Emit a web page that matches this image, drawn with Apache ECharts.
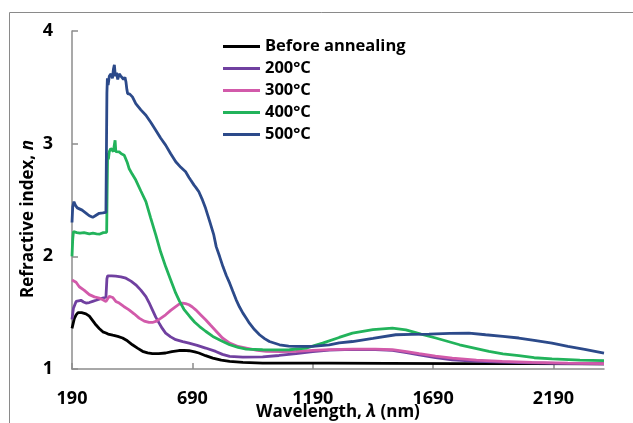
<!DOCTYPE html>
<html>
<head>
<meta charset="utf-8">
<script src="https://cdn.jsdelivr.net/npm/echarts@6/dist/echarts.min.js"></script>
<style>
  html, body { margin: 0; padding: 0; background: #fff; }
  #chart { width: 633px; height: 423px; }
</style>
</head>
<body>
<div id="chart"></div>
<script>
// Refractive index spectra of films, as deposited and after annealing.
const seriesNames = ['Before annealing', '200°C', '300°C', '400°C', '500°C'];
const seriesColors = ['#000000', '#7040A0', '#D25AAA', '#22B35B', '#2C4A8A'];

const xTicks = [190, 690, 1190, 1690, 2190];
const yTicks = [1, 2, 3, 4];

// [wavelength nm, n]
const beforeAnnealing = [
  [190, 1.36], [200, 1.45], [207, 1.48], [215, 1.50], [230, 1.50], [248, 1.49],
  [262, 1.47], [276, 1.43], [290, 1.39], [303, 1.36], [318, 1.33], [331, 1.32],
  [340, 1.31], [359, 1.30], [380, 1.29], [400, 1.275], [420, 1.25], [441, 1.215],
  [462, 1.185], [483, 1.157], [504, 1.143], [524, 1.136], [550, 1.137], [579, 1.142],
  [605, 1.155], [634, 1.164], [655, 1.166], [676, 1.162], [700, 1.152], [717, 1.142],
  [745, 1.118], [775, 1.097], [810, 1.078], [845, 1.067], [900, 1.058], [982, 1.053],
  [1100, 1.052], [1259, 1.052], [1500, 1.05], [1800, 1.048], [2100, 1.047], [2400, 1.046]
];

const t200 = [
  [190, 1.44], [196, 1.54], [207, 1.60], [215, 1.61], [227, 1.61], [238, 1.595],
  [248, 1.585], [262, 1.59], [276, 1.60], [290, 1.61], [303, 1.62], [318, 1.63],
  [331, 1.638], [333, 1.64], [335, 1.80], [338, 1.826], [355, 1.826], [372, 1.824],
  [393, 1.818], [414, 1.806], [435, 1.78], [455, 1.747], [476, 1.70], [497, 1.643],
  [510, 1.59], [524, 1.525], [538, 1.46], [552, 1.407], [565, 1.36], [579, 1.319],
  [600, 1.285], [621, 1.26], [650, 1.243], [676, 1.23], [710, 1.21], [745, 1.186],
  [787, 1.156], [815, 1.13], [845, 1.112], [900, 1.106], [982, 1.108], [1050, 1.12],
  [1121, 1.136], [1190, 1.155], [1259, 1.168], [1355, 1.175], [1450, 1.172], [1521, 1.165],
  [1580, 1.145], [1632, 1.125], [1700, 1.10], [1770, 1.082], [1840, 1.072], [1908, 1.066],
  [2050, 1.056], [2200, 1.05], [2400, 1.045]
];

const t300 = [
  [190, 1.79], [195, 1.80], [207, 1.77], [220, 1.73], [240, 1.70], [262, 1.66],
  [283, 1.64], [303, 1.63], [318, 1.615], [331, 1.60], [337, 1.62], [345, 1.645],
  [359, 1.635], [372, 1.60], [386, 1.585], [405, 1.555], [427, 1.525], [448, 1.49],
  [469, 1.452], [490, 1.425], [510, 1.413], [524, 1.413], [538, 1.422], [558, 1.45],
  [579, 1.481], [600, 1.52], [621, 1.554], [635, 1.575], [649, 1.585], [662, 1.58],
  [676, 1.57], [690, 1.55], [704, 1.525], [725, 1.48], [745, 1.437], [765, 1.39],
  [787, 1.34], [815, 1.275], [845, 1.23], [880, 1.20], [914, 1.186], [960, 1.165],
  [997, 1.156], [1060, 1.155], [1121, 1.156], [1190, 1.165], [1259, 1.172], [1355, 1.177],
  [1450, 1.176], [1521, 1.171], [1580, 1.155], [1632, 1.136], [1700, 1.115], [1770, 1.097],
  [1870, 1.078], [1977, 1.067], [2100, 1.058], [2250, 1.052], [2400, 1.047]
];

const t400 = [
  [190, 2.00], [193, 2.15], [196, 2.22], [210, 2.21], [223, 2.205], [240, 2.21],
  [262, 2.20], [277, 2.205], [292, 2.20], [306, 2.198], [320, 2.21], [334, 2.213],
  [336, 2.60], [338, 2.92], [341, 2.86], [345, 2.93], [351, 2.957], [356, 2.95],
  [362, 2.93], [366, 2.99], [369, 3.03], [372, 2.93], [379, 2.94], [386, 2.927],
  [395, 2.91], [400, 2.90], [407, 2.898], [414, 2.883], [420, 2.83], [427, 2.78],
  [440, 2.73], [455, 2.677], [476, 2.58], [497, 2.485], [517, 2.34], [538, 2.19],
  [558, 2.04], [579, 1.909], [600, 1.79], [621, 1.673], [637, 1.60], [655, 1.53],
  [679, 1.466], [700, 1.415], [720, 1.377], [745, 1.335], [775, 1.289], [810, 1.25],
  [845, 1.215], [880, 1.192], [914, 1.177], [982, 1.171], [1040, 1.170], [1093, 1.171],
  [1162, 1.186], [1231, 1.23], [1300, 1.28], [1355, 1.319], [1440, 1.35], [1521, 1.363],
  [1577, 1.348], [1640, 1.31], [1701, 1.275], [1800, 1.215], [1922, 1.156], [1980, 1.135],
  [2046, 1.118], [2110, 1.10], [2184, 1.089], [2300, 1.079], [2400, 1.074]
];

const t500 = [
  [190, 2.30], [193, 2.44], [198, 2.485], [205, 2.45], [212, 2.43], [220, 2.414],
  [232, 2.41], [248, 2.384], [262, 2.36], [276, 2.346], [290, 2.365], [303, 2.382],
  [318, 2.385], [331, 2.39], [334, 2.39], [335, 3.45], [337, 3.58], [340, 3.52],
  [345, 3.60], [352, 3.62], [358, 3.58], [362, 3.66], [366, 3.70], [370, 3.60],
  [375, 3.63], [380, 3.57], [386, 3.62], [393, 3.60], [399, 3.61], [404, 3.57],
  [410, 3.59], [414, 3.55], [418, 3.48], [421, 3.445], [430, 3.44], [441, 3.415],
  [455, 3.356], [476, 3.30], [497, 3.252], [517, 3.19], [538, 3.12], [558, 3.05],
  [579, 2.987], [600, 2.91], [621, 2.839], [642, 2.79], [662, 2.75], [676, 2.70],
  [683, 2.677], [690, 2.67], [697, 2.632], [705, 2.61], [717, 2.573], [730, 2.51],
  [745, 2.426], [762, 2.31], [779, 2.19], [789, 2.086], [803, 2.00], [817, 1.909],
  [831, 1.83], [845, 1.762], [858, 1.69], [872, 1.614], [886, 1.55], [900, 1.496],
  [914, 1.45], [927, 1.407], [948, 1.35], [969, 1.304], [990, 1.27], [1010, 1.244],
  [1052, 1.215], [1090, 1.203], [1121, 1.20], [1190, 1.20], [1259, 1.215], [1300, 1.232],
  [1355, 1.244], [1440, 1.272], [1535, 1.304], [1600, 1.308], [1673, 1.31], [1760, 1.317],
  [1839, 1.319], [1908, 1.304], [1980, 1.29], [2046, 1.275], [2110, 1.255], [2184, 1.23],
  [2250, 1.20], [2320, 1.175], [2400, 1.142]
];

const seriesData = [beforeAnnealing, t200, t300, t400, t500];

const FONT = '"Open Sans"';
const chart = echarts.init(document.getElementById('chart'), null, { renderer: 'canvas' });

const axisGrey = '#8C8C8C';
const titleRich = {
  b: { fontFamily: FONT, fontWeight: 'bold', fontSize: 17, color: '#000' },
  i: { fontFamily: FONT, fontWeight: 'bold', fontStyle: 'italic', fontSize: 17, color: '#000' }
};

chart.setOption({
  backgroundColor: '#ffffff',
  animation: false,
  grid: { left: 72, top: 31, right: 29, bottom: 54, containLabel: false, outerBoundsMode: 'none' },
  graphic: [{
    type: 'rect',
    shape: { x: 9.5, y: 12.5, width: 700, height: 500 },
    style: { fill: 'none', stroke: '#8A8A8A', lineWidth: 1 },
    silent: true
  }],
  legend: {
    orient: 'vertical',
    left: 218,
    top: 33,
    itemWidth: 37,
    itemHeight: 3,
    itemGap: 5,
    icon: 'rect',
    data: seriesNames,
    textStyle: { fontFamily: FONT, fontWeight: 'bold', fontSize: 16.5, lineHeight: 16, color: '#000' }
  },
  xAxis: {
    type: 'value',
    min: xTicks[0],
    max: 2400,
    interval: xTicks[1] - xTicks[0],
    name: '{b|Wavelength, }{i|λ}{b| (nm)}',
    nameLocation: 'middle',
    nameGap: 35,
    nameMoveOverlap: false,
    nameTextStyle: { rich: titleRich },
    axisLine: { show: true, lineStyle: { color: axisGrey, width: 1.5 } },
    axisTick: { show: true, inside: true, length: 6, lineStyle: { color: axisGrey, width: 1.5 } },
    splitLine: { show: false },
    axisLabel: {
      showMaxLabel: false,
      margin: 21,
      fontFamily: FONT, fontWeight: 'bold', fontSize: 18, color: '#000',
      formatter: v => (xTicks.indexOf(v) >= 0 ? String(v) : '')
    }
  },
  yAxis: {
    type: 'value',
    min: yTicks[0],
    max: yTicks[yTicks.length - 1],
    interval: 1,
    name: '{b|Refractive index, }{i|n}',
    nameLocation: 'middle',
    nameRotate: 90,
    nameGap: 35,
    nameMoveOverlap: false,
    nameTextStyle: { rich: titleRich, padding: [0, 38, 0, 0] },
    axisLine: { show: true, lineStyle: { color: axisGrey, width: 1.5 } },
    axisTick: { show: true, inside: true, length: 6, lineStyle: { color: axisGrey, width: 1.5 } },
    splitLine: { show: false },
    axisLabel: { margin: 19, fontFamily: FONT, fontWeight: 'bold', fontSize: 18, color: '#000' }
  },
  series: seriesNames.map((name, i) => ({
    name: name,
    type: 'line',
    data: seriesData[i],
    showSymbol: false,
    symbol: 'none',
    smooth: false,
    color: seriesColors[i],
    lineStyle: { color: seriesColors[i], width: 2.8 },
    z: 2 + i
  }))
});
</script>
</body>
</html>
